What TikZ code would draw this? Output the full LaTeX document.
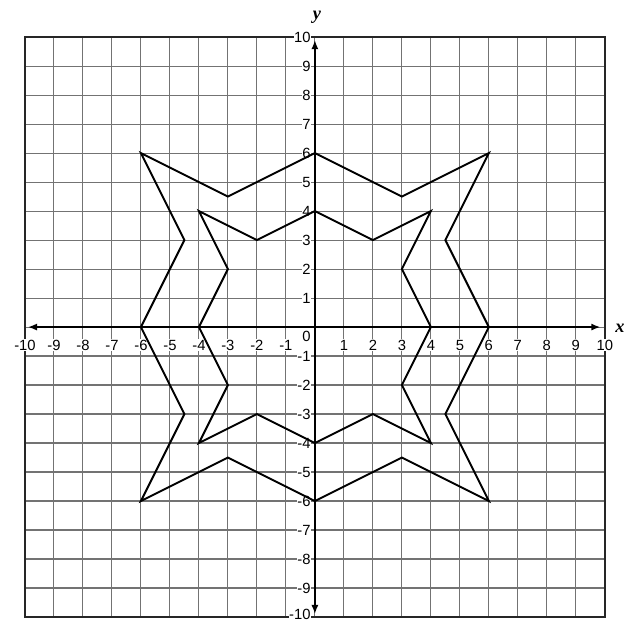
\documentclass[tikz,border=0pt]{standalone}
\usepackage{fontspec}
\setmainfont{Liberation Sans}
\newfontfamily\varfont{Liberation Serif}
\usetikzlibrary{arrows.meta}
\begin{document}
\begin{tikzpicture}[x=1cm,y=1cm,
  gridline/.style={draw=black!55, line width=1.1pt},
  frameline/.style={draw=black!85, line width=2.2pt},
  axisline/.style={draw=black, line width=1.8pt, -{Latex[length=9pt,width=7pt]}},
  starline/.style={draw=black, line width=1.9pt, line join=miter},
  tick/.style={fill=white, inner sep=0.6pt, font=\fontsize{14.5}{16}\selectfont},
  axlabel/.style={font=\varfont\itshape\bfseries\fontsize{18}{20}\selectfont, inner sep=0pt}]
\useasboundingbox (-10.86,-10.17) rectangle (10.73,11.28);
% grid
\foreach \i in {-9,...,9} {
  \draw[gridline] (\i,-10) -- (\i,10);
  \draw[gridline] (-10,\i) -- (10,\i);
}
\draw[frameline] (-10,-10) rectangle (10,10);
% axes
\coordinate (xl) at (-9.9,0);
\coordinate (xr) at (9.85,0);
\coordinate (yb) at (0,-9.9);
\coordinate (yt) at (0,9.9);
\draw[axisline] (0,0) -- (xr);
\draw[axisline] (0,0) -- (xl);
\draw[axisline] (0,0) -- (yt);
\draw[axisline] (0,0) -- (yb);
% tick labels
\foreach \i in {-10,...,-1,1,2,...,10} {
  \node[tick] (xt\i) at (\i,-0.62) {\i};
}
\foreach \i in {-9,...,-1,1,2,...,10} {
  \node[tick, anchor=east] (yt\i) at (-0.12,\i) {\i};
}
\node[tick, anchor=east] (ytm10) at (-0.12,-9.9) {-10};
\node[tick, anchor=north east] (zero) at (-0.12,-0.12) {0};
\node[axlabel] (xlab) at (10.52,-0.05) {x};
\node[axlabel] (ylab) at (0.07,10.7) {y};
% outer star
\draw[starline] (-6,6) -- (-3,4.5) -- (0,6) -- (3,4.5) -- (6,6) -- (4.5,3) -- (6,0)
  -- (4.5,-3) -- (6,-6) -- (3,-4.5) -- (0,-6) -- (-3,-4.5) -- (-6,-6) -- (-4.5,-3)
  -- (-6,0) -- (-4.5,3) -- cycle;
% inner star
\draw[starline] (-4,4) -- (-2,3) -- (0,4) -- (2,3) -- (4,4) -- (3,2) -- (4,0)
  -- (3,-2) -- (4,-4) -- (2,-3) -- (0,-4) -- (-2,-3) -- (-4,-4) -- (-3,-2)
  -- (-4,0) -- (-3,2) -- cycle;
\end{tikzpicture}
\end{document}
